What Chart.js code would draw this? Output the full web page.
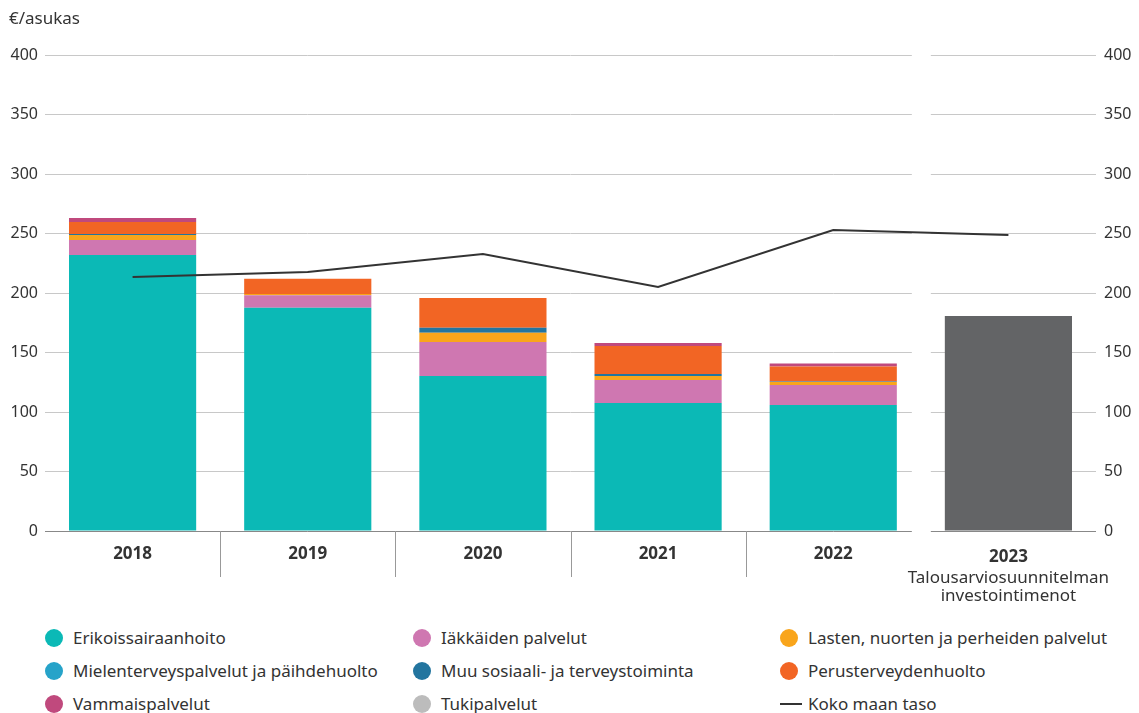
<!DOCTYPE html>
<html>
<head>
<meta charset="utf-8">
<script src="https://cdn.jsdelivr.net/npm/chart.js@4"></script>
<style>
  body { margin: 0; background: #fff; font-family: "Noto Sans", sans-serif; color: #333; }
  #wrap { position: absolute; left: 0; top: 0; width: 1139px; height: 610px; }
  #legend { position: absolute; left: 0; top: 622px; width: 1139px; }
  .item { position: absolute; height: 32px; line-height: 32px; font-size: 17px; white-space: nowrap; }
  .dot { position: absolute; left: 0; top: 7px; width: 18px; height: 18px; border-radius: 50%; }
  .dash { position: absolute; left: 0; top: 15px; width: 22px; height: 2px; background: #333; }
  .item span.t { position: absolute; left: 28px; top: 0; }
</style>
</head>
<body>
<div id="wrap"><canvas id="myChart" width="1139" height="610"></canvas></div>
<div id="legend"></div>
<script>
// Categories and tick labels
var years = ["2018", "2019", "2020", "2021", "2022", "2023"];
var subLabels = ["Talousarviosuunnitelman", "investointimenot"];
var yTicks = [0, 50, 100, 150, 200, 250, 300, 350, 400];

// Series values (€/asukas)
var erikoissairaanhoito = [232, 187.6, 130.3, 107.6, 105.9, null];
var iakkaiden = [12.6, 10.5, 28.6, 19.3, 16.8, null];
var lasten = [4.2, 1, 7.6, 3.4, 2.5, null];
var mielenterveys = [0, 0, 0, 0, 0, null];
var muuSosiaali = [0.8, 0, 4.2, 1.7, 0.4, null];
var perusterveys = [10, 12.9, 25.2, 23.5, 12.6, null];
var vammais = [3.4, 0, 0, 2.5, 2.5, null];
var tuki = [0, 0, 0, 0, 0, null];
var talousarvio2023 = [null, null, null, null, null, 180.7];
var kokoMaa = [213.4, 217.6, 232.8, 205, 253, 248.7];

var names = [
  "Erikoissairaanhoito", "Iäkkäiden palvelut", "Lasten, nuorten ja perheiden palvelut",
  "Mielenterveyspalvelut ja päihdehuolto", "Muu sosiaali- ja terveystoiminta", "Perusterveydenhuolto",
  "Vammaispalvelut", "Tukipalvelut"
];
var colors = ["#0bb9b6", "#cf77b1", "#f9a51b", "#26a3c9", "#23759f", "#f26524", "#c0497d", "#bcbcbc"];
var series = [erikoissairaanhoito, iakkaiden, lasten, mielenterveys, muuSosiaali, perusterveys, vammais, tuki];

var datasets = [];
// line first so it draws on top
datasets.push({
  type: "line",
  label: "Koko maan taso",
  data: kokoMaa,
  borderColor: "#333333",
  borderWidth: 2,
  pointRadius: 0,
  tension: 0,
  order: 0
});
for (var i = 0; i < series.length; i++) {
  datasets.push({
    label: names[i],
    data: series[i],
    backgroundColor: colors[i],
    stack: "s",
    order: 1
  });
}
datasets.push({
  label: "2023",
  data: talousarvio2023,
  backgroundColor: "#636466",
  stack: "s",
  order: 1
});

var font = "Noto Sans";

// Draws the gap between 2022 and 2023, the category dividers, x labels and unit title
var decorPlugin = {
  id: "decor",
  beforeDatasetsDraw: function (chart) {
    var c = chart.ctx, a = chart.chartArea, x = chart.scales.x;
    var gx = (x.getPixelForValue(4) + x.getPixelForValue(5)) / 2;
    c.save();
    c.fillStyle = "#fff";
    c.fillRect(gx - 9, a.top - 5, 19, a.bottom - a.top + 8);
    c.restore();
  },
  afterDraw: function (chart) {
    var c = chart.ctx, a = chart.chartArea, x = chart.scales.x;
    c.save();
    c.strokeStyle = "#999";
    c.lineWidth = 1;
    for (var i = 0; i < 4; i++) {
      var bx = Math.round((x.getPixelForValue(i) + x.getPixelForValue(i + 1)) / 2) + 0.5;
      c.beginPath();
      c.moveTo(bx, a.bottom);
      c.lineTo(bx, a.bottom + 46);
      c.stroke();
    }
    c.fillStyle = "#333";
    c.textAlign = "center";
    c.textBaseline = "middle";
    for (var j = 0; j < years.length; j++) {
      var px = x.getPixelForValue(j);
      c.font = "bold 17px '" + font + "'";
      c.fillText(years[j], px, j === 5 ? a.bottom + 26 : a.bottom + 23);
    }
    c.font = "17px '" + font + "'";
    c.fillText(subLabels[0], x.getPixelForValue(5), a.bottom + 47);
    c.fillText(subLabels[1], x.getPixelForValue(5), a.bottom + 65);
    c.textAlign = "left";
    c.fillText("€/asukas", 9, 19);
    c.restore();
  }
};

var ctx = document.getElementById("myChart").getContext("2d");
var myChart = new Chart(ctx, {
  type: "bar",
  data: { labels: years, datasets: datasets },
  plugins: [decorPlugin],
  options: {
    responsive: false,
    animation: false,
    layout: { padding: { top: 55, bottom: 0, left: 0, right: 0 } },
    barPercentage: 0.726,
    categoryPercentage: 1,
    plugins: { legend: { display: false }, tooltip: { enabled: false } },
    scales: {
      x: {
        stacked: true,
        grid: { display: false },
        border: { display: false },
        ticks: { display: false },
        afterFit: function (s) { s.height = 79; }
      },
      y: {
        stacked: true,
        min: 0,
        max: 400,
        afterBuildTicks: function (s) { s.ticks = yTicks.map(function (v) { return { value: v }; }); },
        grid: {
          color: function (c) { return c.tick.value === 0 ? "#888" : "#c8c8c8"; },
          drawTicks: false
        },
        border: { display: false },
        ticks: { color: "#333", font: { family: font, size: 16 }, padding: 7 },
        afterFit: function (s) { s.width = 45; }
      },
      y2: {
        position: "right",
        min: 0,
        max: 400,
        afterBuildTicks: function (s) { s.ticks = yTicks.map(function (v) { return { value: v }; }); },
        grid: { drawOnChartArea: false, drawTicks: false },
        border: { display: false },
        ticks: { color: "#333", font: { family: font, size: 16 }, padding: 8 },
        afterFit: function (s) { s.width = 43; }
      }
    }
  }
});

// HTML legend in three columns
var legendItems = names.concat(["Koko maan taso"]);
var colX = [45, 413, 780];
var rowY = [0, 33, 66];
var legend = document.getElementById("legend");
legendItems.forEach(function (name, k) {
  var d = document.createElement("div");
  d.className = "item";
  d.style.left = colX[k % 3] + "px";
  d.style.top = rowY[Math.floor(k / 3)] + "px";
  var mark = document.createElement("div");
  if (k < names.length) {
    mark.className = "dot";
    mark.style.background = colors[k];
  } else {
    mark.className = "dash";
  }
  var t = document.createElement("span");
  t.className = "t";
  t.textContent = name;
  d.appendChild(mark);
  d.appendChild(t);
  legend.appendChild(d);
});
</script>
</body>
</html>
